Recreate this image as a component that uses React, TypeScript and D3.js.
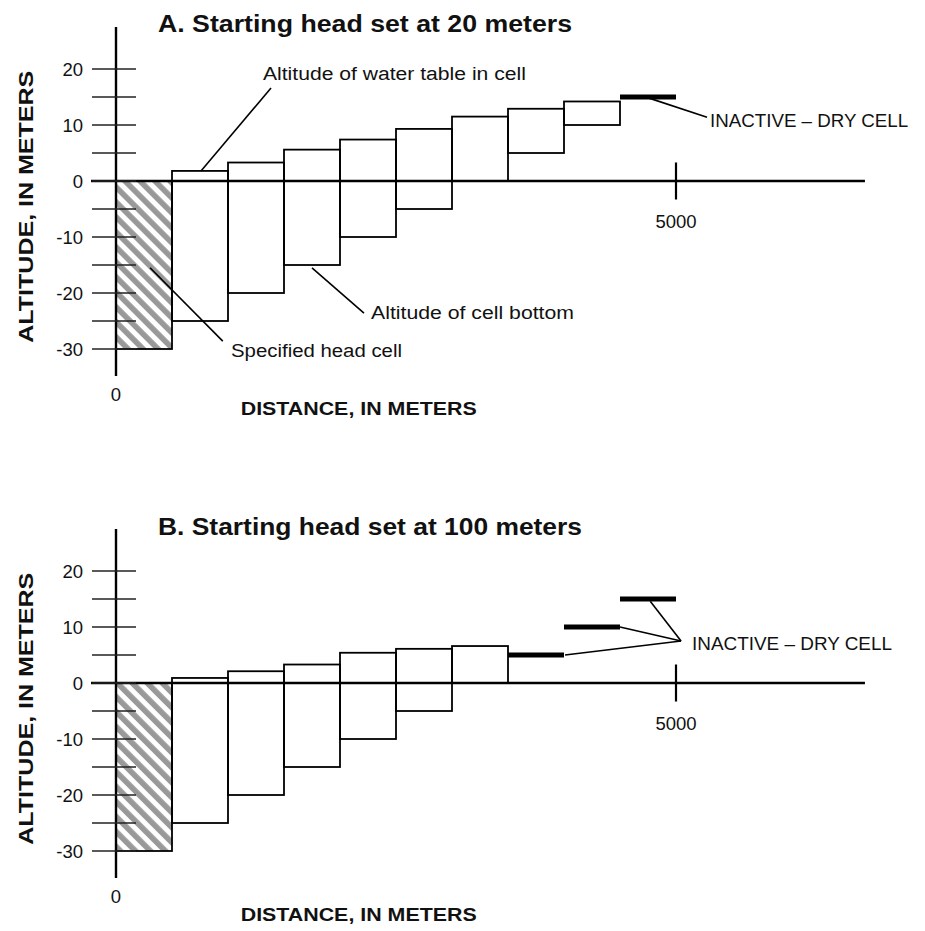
import React from 'react';
import * as d3 from 'd3';

// ---- data ----
const cellStarts = [0, 500, 1000, 1500, 2000, 2500, 3000, 3500, 4000, 4500];
const cellWidth = 500;
const cellBottoms = [-30, -25, -20, -15, -10, -5, 0, 5, 10, 15];
// index 0 = specified head cell; null = inactive (dry) cell
const headsA: (number | null)[] = [0, 1.8, 3.3, 5.6, 7.4, 9.3, 11.5, 12.9, 14.2, null];
const headsB: (number | null)[] = [0, 0.9, 2.1, 3.3, 5.4, 6.1, 6.6, null, null, null];
const majorTicks = [-30, -20, -10, 0, 10, 20];
const minorTicks = [-25, -15, -5, 5, 15];
const xTicks = [5000];
const titles = ['A. Starting head set at 20 meters', 'B. Starting head set at 100 meters'];
const yAxisLabel = 'ALTITUDE, IN METERS';
const xAxisLabel = 'DISTANCE, IN METERS';

// ---- annotations (data coordinates: distance, altitude) ----
type Ann = { text: string; at: [number, number]; len: number; leaders: [number, number][][] };
const annotationsA: Ann[] = [
  { text: 'Altitude of water table in cell', at: [1312, 18.0], len: 263, leaders: [[[1384, 16.6], [759, 1.8]]] },
  { text: 'INACTIVE \u2013 DRY CELL', at: [5304, 9.6], len: 198, leaders: [[[4760, 14.8], [5277, 11.4]]] },
  { text: 'Altitude of cell bottom', at: [2277, -24.6], len: 203, leaders: [[[1750, -15.5], [2214, -23.6]]] },
  { text: 'Specified head cell', at: [1027, -31.4], len: 171, leaders: [[[304, -15.5], [953, -28.6]]] },
];
const annotationsB: Ann[] = [
  {
    text: 'INACTIVE \u2013 DRY CELL', at: [5143, 5.9], len: 200,
    leaders: [
      [[4770, 14.6], [5045, 7.5]],
      [[4500, 10], [5045, 7.5]],
      [[4009, 5], [5045, 7.5]],
    ],
  },
];

const FONT = "'Liberation Sans', Arial, Helvetica, sans-serif";
const INK = '#111';

function Panel({ zero, heads, title, titleOffset, annotations, xLabelOffset, id }: {
  zero: number; heads: (number | null)[]; title: string; titleOffset: number;
  annotations: Ann[]; xLabelOffset: number; id: string;
}) {
  const x = d3.scaleLinear().domain([0, 5000]).range([116, 676]);
  const y = d3.scaleLinear().domain([-30, 20]).range([zero + 168, zero - 112]);
  const line = d3.line<[number, number]>().x(d => x(d[0])).y(d => y(d[1]));
  const patId = `hatch-${id}`;
  return (
    <g>
      <defs>
        <pattern id={patId} patternUnits="userSpaceOnUse" width={10.6} height={10.6} patternTransform="rotate(-45)">
          <rect x={0} y={0} width={10.6} height={10.6} fill="#fff" />
          <rect x={0} y={0} width={5.6} height={10.6} fill="#999" />
        </pattern>
      </defs>
      {/* cells */}
      {cellStarts.map((c, i) => {
        const h = heads[i];
        const b = cellBottoms[i];
        if (h === null) {
          return (
            <line key={i} x1={x(c)} x2={x(c + cellWidth)} y1={y(b)} y2={y(b)} stroke="#000" strokeWidth={5} />
          );
        }
        return (
          <rect key={i} x={x(c)} y={y(h)} width={x(c + cellWidth) - x(c)} height={y(b) - y(h)}
            fill={i === 0 ? `url(#${patId})` : 'none'} stroke="#000" strokeWidth={1.8} />
        );
      })}
      {/* y axis */}
      <line x1={x(0)} x2={x(0)} y1={y(27.5)} y2={y(-34.8)} stroke="#000" strokeWidth={2.4} />
      {/* x axis */}
      <line x1={x(-223)} x2={x(6687)} y1={y(0)} y2={y(0)} stroke="#000" strokeWidth={2.4} />
      {/* y ticks */}
      {[...majorTicks, ...minorTicks].map(t => (
        <line key={t} x1={92} x2={136} y1={y(t)} y2={y(t)} stroke="#222" strokeWidth={1.7} />
      ))}
      {majorTicks.map(t => (
        <text key={t} x={83} y={y(t) + 6.5} textAnchor="end" fontFamily={FONT} fontSize={18.5} fill={INK}>{t}</text>
      ))}
      {/* x ticks */}
      {xTicks.map(t => (
        <g key={t}>
          <line x1={x(t)} x2={x(t)} y1={y(0) - 18.5} y2={y(0) + 18.5} stroke="#000" strokeWidth={2.2} />
          <text x={x(t)} y={y(0) + 47} textAnchor="middle" fontFamily={FONT} fontSize={18.5} fill={INK}>{t}</text>
        </g>
      ))}
      <text x={x(0)} y={zero + 220} textAnchor="middle" fontFamily={FONT} fontSize={18.5} fill={INK}>0</text>
      {/* title */}
      <text x={158} y={zero - titleOffset} fontFamily={FONT} fontWeight="bold" fontSize={23.5} fill={INK}
        textLength={id === 'a' ? 414 : 424} lengthAdjust="spacingAndGlyphs">{title}</text>
      {/* axis labels */}
      <text transform={`translate(33.3, ${zero + 25.7}) rotate(-90)`} textAnchor="middle" fontFamily={FONT}
        fontWeight="bold" fontSize={21} fill={INK} textLength={272} lengthAdjust="spacingAndGlyphs">{yAxisLabel}</text>
      <text x={240.7} y={zero + xLabelOffset} fontFamily={FONT} fontWeight="bold" fontSize={18.6} fill={INK}
        textLength={236} lengthAdjust="spacingAndGlyphs">{xAxisLabel}</text>
      {/* annotations */}
      {annotations.map((a, i) => (
        <g key={i}>
          {a.leaders.map((l, j) => (
            <path key={j} d={line(l as [number, number][]) || ''} fill="none" stroke="#000" strokeWidth={1.6} />
          ))}
          <text x={x(a.at[0])} y={y(a.at[1])} fontFamily={FONT} fontSize={18.8} fill={INK}
            textLength={a.len} lengthAdjust="spacingAndGlyphs">{a.text}</text>
        </g>
      ))}
    </g>
  );
}

export default function App() {
  return (
    <svg width={925} height={931} viewBox="0 0 925 931"
      style={{ position: 'absolute', left: 0, top: 0, background: '#fff' }}>
      <rect x={0} y={0} width={925} height={931} fill="#fff" />
      <Panel id="a" zero={181} heads={headsA} title={titles[0]} titleOffset={149.3}
        annotations={annotationsA} xLabelOffset={234} />
      <Panel id="b" zero={683} heads={headsB} title={titles[1]} titleOffset={148}
        annotations={annotationsB} xLabelOffset={237.5} />
    </svg>
  );
}
